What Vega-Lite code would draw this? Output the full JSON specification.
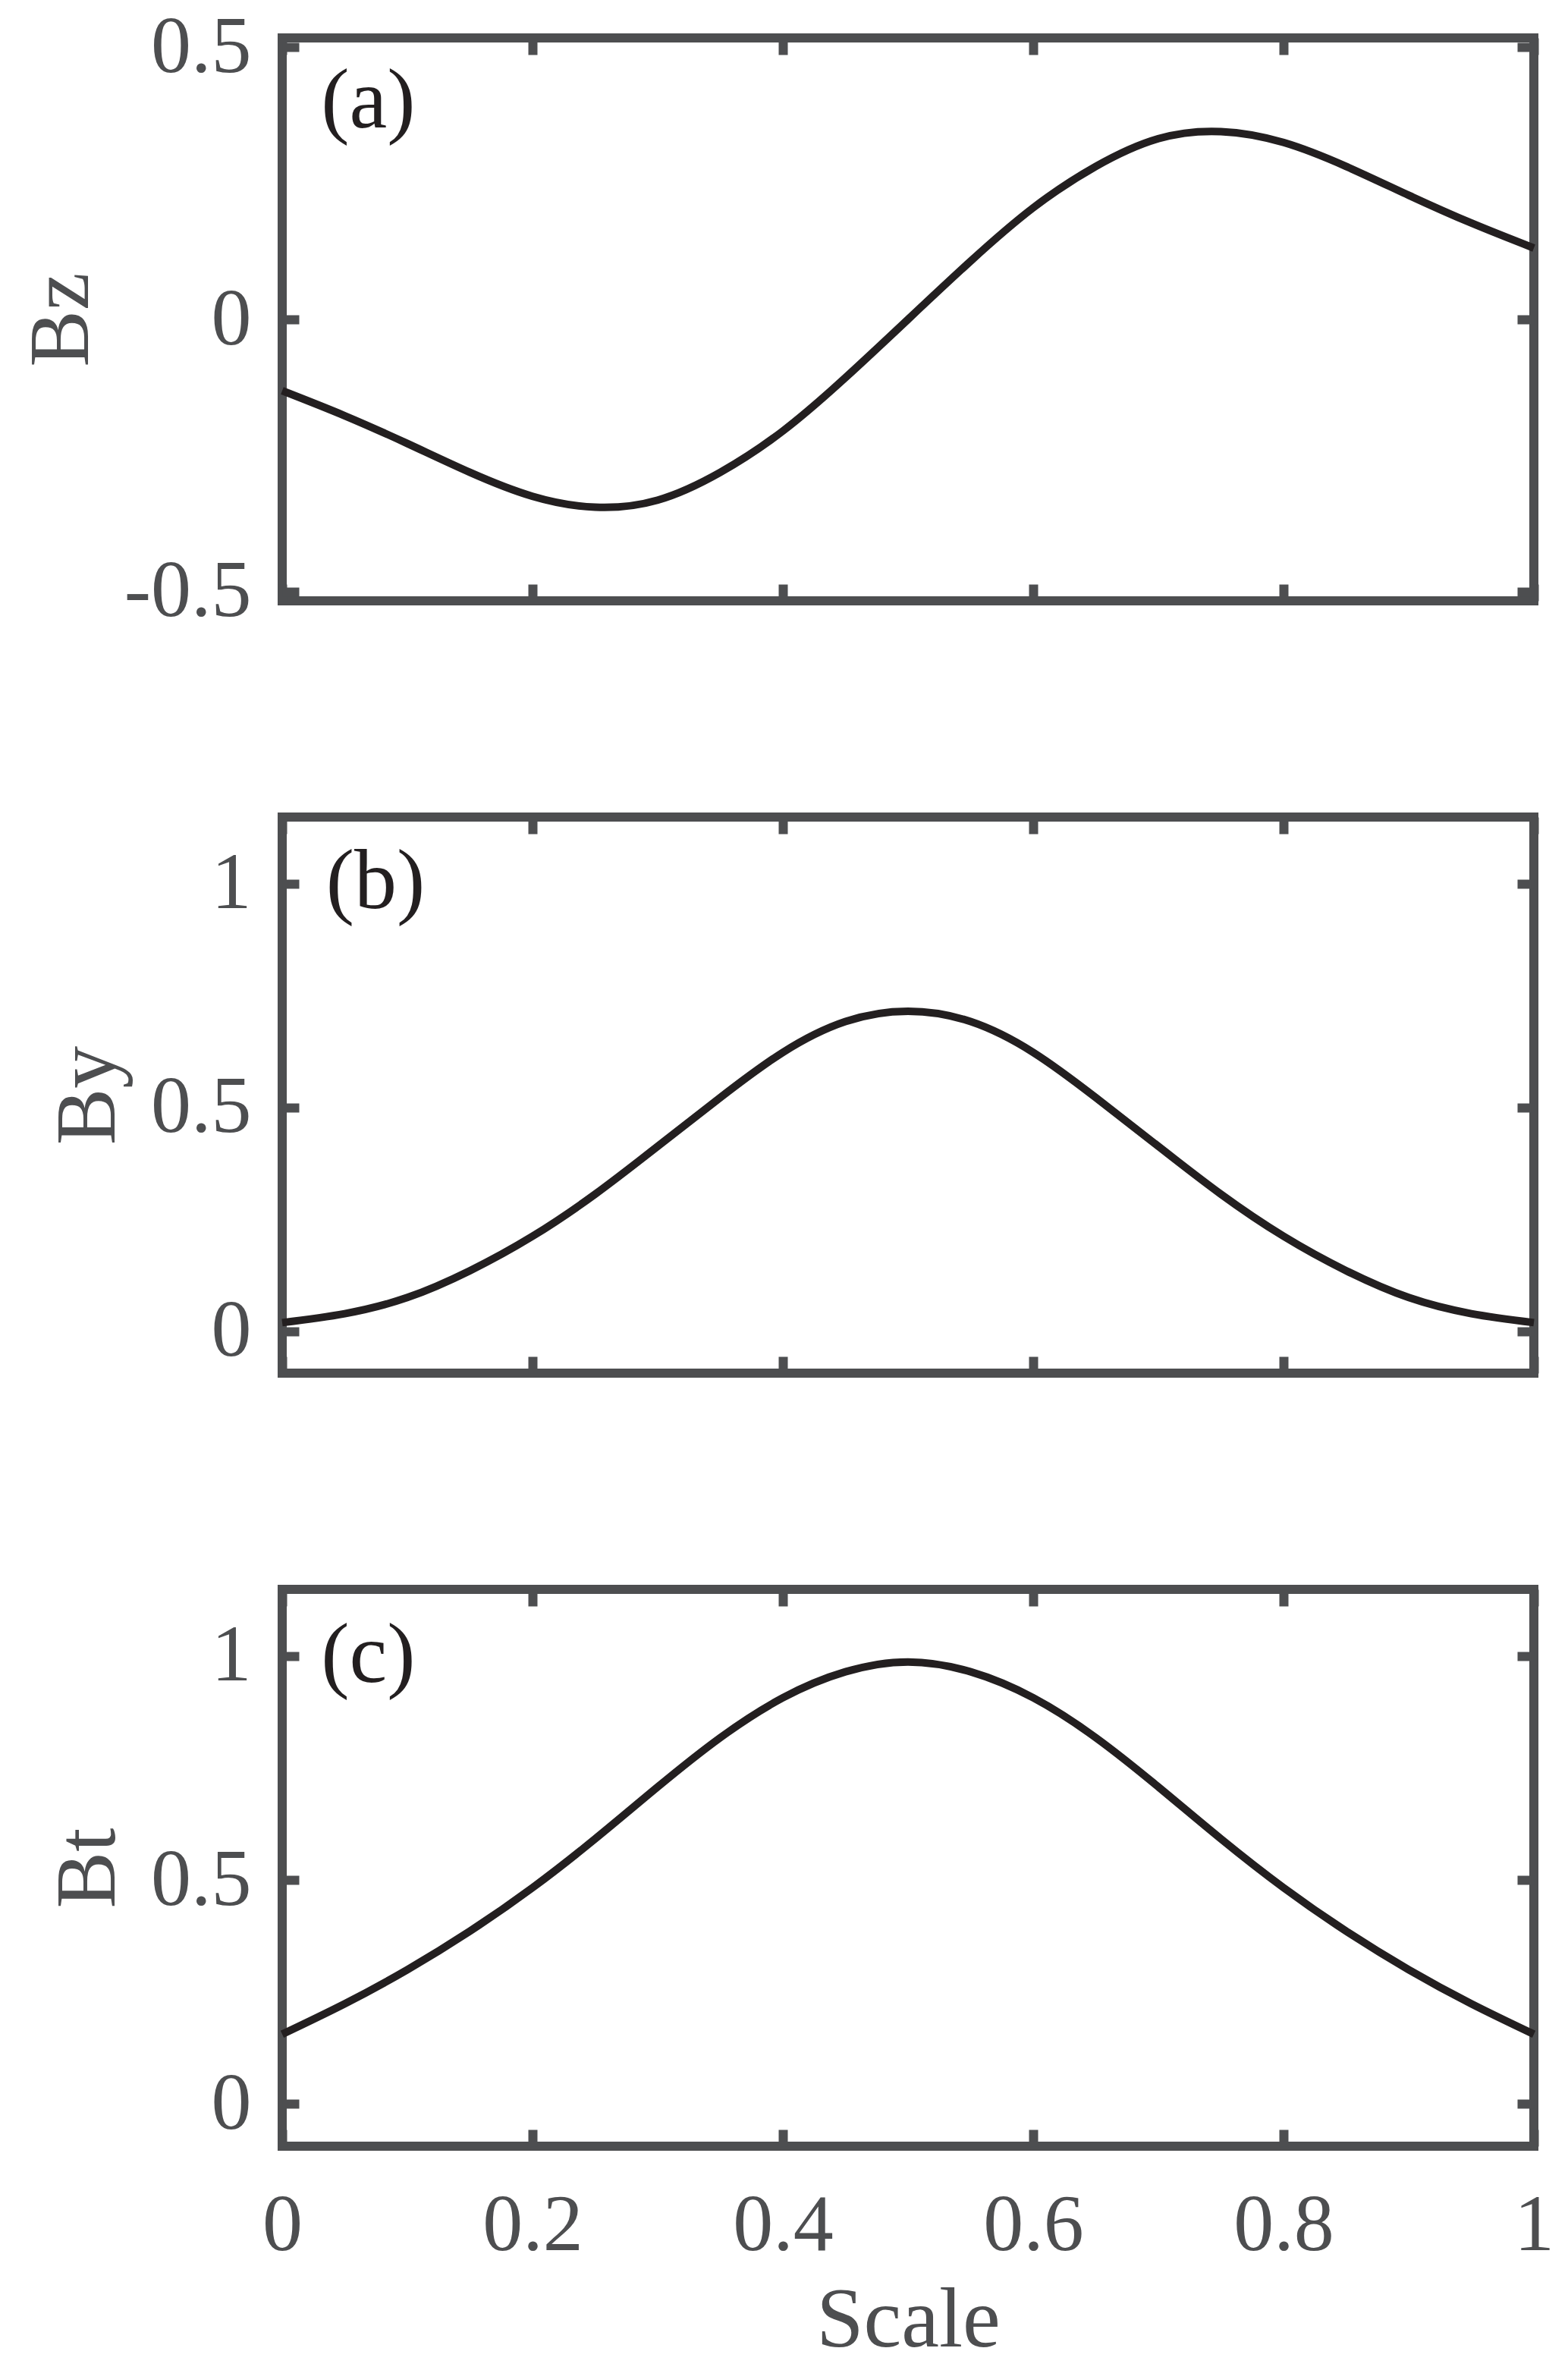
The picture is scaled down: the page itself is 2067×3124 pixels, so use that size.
{
  "$schema": "https://vega.github.io/schema/vega-lite/v6.json",
  "background": "white",
  "padding": {"left": 19, "top": 3, "right": 40, "bottom": 10},
  "bounds": "flush",
  "spacing": 285,
  "config": {
    "font": "Liberation Serif",
    "view": {"stroke": "#4d4e50", "strokeWidth": 12},
    "axis": {
      "domain": false,
      "grid": false,
      "ticks": true,
      "tickColor": "#4d4e50",
      "tickWidth": 12,
      "tickSize": -22,
      "labelFont": "Liberation Serif",
      "labelFontSize": 106,
      "labelColor": "#4d4e50",
      "labelFlush": false,
      "labelOverlap": false,
      "titleFont": "Liberation Serif",
      "titleFontSize": 112,
      "titleFontWeight": "normal",
      "titleColor": "#4d4e50",
      "minExtent": 0,
      "maxExtent": 1000
    },
    "axisLeft": {"labelPadding": 63, "titlePadding": 24},
    "axisBottom": {"labelPadding": 74, "titlePadding": 18}
  },
  "datasets": {
    "bz": [
      {"s": 0, "v": -0.131}, {"s": 0.05, "v": -0.177}, {"s": 0.1, "v": -0.228}, {"s": 0.15, "v": -0.281},
      {"s": 0.2, "v": -0.325}, {"s": 0.25, "v": -0.345},
      {"s": 0.3, "v": -0.332}, {"s": 0.35, "v": -0.281}, {"s": 0.4, "v": -0.205}, {"s": 0.45, "v": -0.107},
      {"s": 0.5, "v": 0}, {"s": 0.55, "v": 0.107}, {"s": 0.6, "v": 0.205}, {"s": 0.65, "v": 0.281},
      {"s": 0.7, "v": 0.332}, {"s": 0.75, "v": 0.345},
      {"s": 0.8, "v": 0.325}, {"s": 0.85, "v": 0.281}, {"s": 0.9, "v": 0.228}, {"s": 0.95, "v": 0.177},
      {"s": 1, "v": 0.131}
    ],
    "by": [
      {"s": 0, "v": 0.019}, {"s": 0.05, "v": 0.039}, {"s": 0.1, "v": 0.075}, {"s": 0.15, "v": 0.135},
      {"s": 0.2, "v": 0.212}, {"s": 0.25, "v": 0.306}, {"s": 0.3, "v": 0.413}, {"s": 0.35, "v": 0.522},
      {"s": 0.4, "v": 0.623}, {"s": 0.45, "v": 0.692}, {"s": 0.5, "v": 0.715}, {"s": 0.55, "v": 0.692},
      {"s": 0.6, "v": 0.623}, {"s": 0.65, "v": 0.522}, {"s": 0.7, "v": 0.413}, {"s": 0.75, "v": 0.306},
      {"s": 0.8, "v": 0.212}, {"s": 0.85, "v": 0.135}, {"s": 0.9, "v": 0.075}, {"s": 0.95, "v": 0.039},
      {"s": 1, "v": 0.019}
    ],
    "bt": [
      {"s": 0, "v": 0.156}, {"s": 0.05, "v": 0.224}, {"s": 0.1, "v": 0.3}, {"s": 0.15, "v": 0.386},
      {"s": 0.2, "v": 0.483}, {"s": 0.25, "v": 0.592}, {"s": 0.3, "v": 0.708}, {"s": 0.35, "v": 0.818},
      {"s": 0.4, "v": 0.907}, {"s": 0.45, "v": 0.965}, {"s": 0.5, "v": 0.987}, {"s": 0.55, "v": 0.965},
      {"s": 0.6, "v": 0.907}, {"s": 0.65, "v": 0.818}, {"s": 0.7, "v": 0.708}, {"s": 0.75, "v": 0.592},
      {"s": 0.8, "v": 0.483}, {"s": 0.85, "v": 0.386}, {"s": 0.9, "v": 0.3}, {"s": 0.95, "v": 0.224},
      {"s": 1, "v": 0.156}
    ]
  },
  "vconcat": [
    {
      "width": 1650,
      "height": 742,
      "layer": [
        {
          "data": {"name": "bz"},
          "mark": {"type": "line", "color": "#231f20", "strokeWidth": 10, "interpolate": "natural"},
          "encoding": {
            "x": {"field": "s", "type": "quantitative",
                  "scale": {"domain": [0, 1], "nice": false, "zero": false},
                  "axis": {"orient": "bottom", "labels": false, "title": null, "values": [0, 0.2, 0.4, 0.6, 0.8, 1]}},
            "y": {"field": "v", "type": "quantitative",
                  "scale": {"domain": [-0.517, 0.517], "nice": false, "zero": false},
                  "axis": {"orient": "left", "title": "Bz", "values": [-0.5, 0, 0.5],
                           "labelExpr": "replace(format(datum.value, '~g'), '\u2212', '-')"}}
          }
        },
        {
          "data": {"values": [{"label": "(a)"}]},
          "mark": {"type": "text", "align": "left", "baseline": "alphabetic", "fontSize": 112, "font": "Liberation Serif", "color": "#231f20"},
          "encoding": {
            "text": {"field": "label"},
            "x": {"datum": 0.031, "type": "quantitative",
                  "axis": {"orient": "top", "labels": false, "title": null, "values": [0, 0.2, 0.4, 0.6, 0.8, 1]}},
            "y": {"datum": 0.353, "type": "quantitative",
                  "axis": {"orient": "right", "labels": false, "title": null, "values": [-0.5, 0, 0.5]}}
          }
        }
      ],
      "resolve": {"axis": {"x": "independent", "y": "independent"}}
    },
    {
      "width": 1650,
      "height": 733,
      "layer": [
        {
          "data": {"name": "by"},
          "mark": {"type": "line", "color": "#231f20", "strokeWidth": 10, "interpolate": "natural"},
          "encoding": {
            "x": {"field": "s", "type": "quantitative",
                  "scale": {"domain": [0, 1], "nice": false, "zero": false},
                  "axis": {"orient": "bottom", "labels": false, "title": null, "values": [0, 0.2, 0.4, 0.6, 0.8, 1]}},
            "y": {"field": "v", "type": "quantitative",
                  "scale": {"domain": [-0.094, 1.149], "nice": false, "zero": false},
                  "axis": {"orient": "left", "title": "By", "values": [0, 0.5, 1],
                           "labelExpr": "replace(format(datum.value, '~g'), '\u2212', '-')"}}
          }
        },
        {
          "data": {"values": [{"label": "(b)"}]},
          "mark": {"type": "text", "align": "left", "baseline": "alphabetic", "fontSize": 112, "font": "Liberation Serif", "color": "#231f20"},
          "encoding": {
            "text": {"field": "label"},
            "x": {"datum": 0.035, "type": "quantitative",
                  "axis": {"orient": "top", "labels": false, "title": null, "values": [0, 0.2, 0.4, 0.6, 0.8, 1]}},
            "y": {"datum": 0.946, "type": "quantitative",
                  "axis": {"orient": "right", "labels": false, "title": null, "values": [0, 0.5, 1]}}
          }
        }
      ],
      "resolve": {"axis": {"x": "independent", "y": "independent"}}
    },
    {
      "width": 1650,
      "height": 734,
      "layer": [
        {
          "data": {"name": "bt"},
          "mark": {"type": "line", "color": "#231f20", "strokeWidth": 10, "interpolate": "natural"},
          "encoding": {
            "x": {"field": "s", "type": "quantitative",
                  "scale": {"domain": [0, 1], "nice": false, "zero": false},
                  "axis": {"orient": "bottom", "title": "Scale", "values": [0, 0.2, 0.4, 0.6, 0.8, 1],
                           "labelExpr": "replace(format(datum.value, '~g'), '\u2212', '-')"}},
            "y": {"field": "v", "type": "quantitative",
                  "scale": {"domain": [-0.094, 1.149], "nice": false, "zero": false},
                  "axis": {"orient": "left", "title": "Bt", "values": [0, 0.5, 1],
                           "labelExpr": "replace(format(datum.value, '~g'), '\u2212', '-')"}}
          }
        },
        {
          "data": {"values": [{"label": "(c)"}]},
          "mark": {"type": "text", "align": "left", "baseline": "alphabetic", "fontSize": 112, "font": "Liberation Serif", "color": "#231f20"},
          "encoding": {
            "text": {"field": "label"},
            "x": {"datum": 0.031, "type": "quantitative",
                  "axis": {"orient": "top", "labels": false, "title": null, "values": [0, 0.2, 0.4, 0.6, 0.8, 1]}},
            "y": {"datum": 0.942, "type": "quantitative",
                  "axis": {"orient": "right", "labels": false, "title": null, "values": [0, 0.5, 1]}}
          }
        }
      ],
      "resolve": {"axis": {"x": "independent", "y": "independent"}}
    }
  ]
}
